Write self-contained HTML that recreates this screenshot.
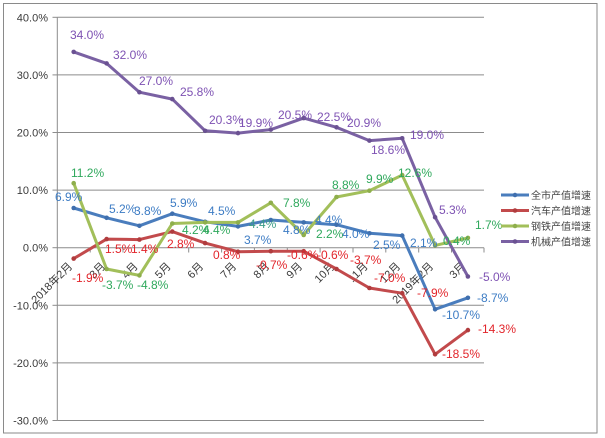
<!DOCTYPE html>
<html><head><meta charset="utf-8"><style>
html,body{margin:0;padding:0;background:#fff;}
svg{display:block;}
.ax{font-family:"Liberation Sans","Noto Sans CJK SC",sans-serif;font-size:11px;fill:#3a3a3a;}
.dl{font-family:"Liberation Sans",sans-serif;font-size:12px;}
.b{fill:#3d7cc4;} .r{fill:#e2252b;} .g{fill:#2fa85c;} .p{fill:#7e52b3;}
.lg{font-family:"Liberation Sans","Noto Sans CJK SC",sans-serif;font-size:10px;fill:#444;}
</style></head><body>
<svg width="605" height="438" viewBox="0 0 605 438" xmlns="http://www.w3.org/2000/svg">
<rect x="0" y="0" width="605" height="438" fill="#fff"/>
<rect x="3.5" y="3.5" width="593.5" height="429.5" fill="none" stroke="#8a8a8a" stroke-width="1"/>
<!-- gridlines -->
<g stroke="#8c8c8c" stroke-width="1">
<line x1="57.3" y1="17.3" x2="484" y2="17.3"/>
<line x1="57.3" y1="74.9" x2="484" y2="74.9"/>
<line x1="57.3" y1="132.5" x2="484" y2="132.5"/>
<line x1="57.3" y1="190.1" x2="484" y2="190.1"/>
<line x1="57.3" y1="247.7" x2="484" y2="247.7"/>
<line x1="57.3" y1="305.3" x2="484" y2="305.3"/>
<line x1="57.3" y1="362.9" x2="484" y2="362.9"/>
<line x1="57.3" y1="420.5" x2="484" y2="420.5"/>
<line x1="57.3" y1="17.3" x2="57.3" y2="420.5"/>
<line x1="52.5" y1="17.3" x2="57.3" y2="17.3"/>
<line x1="52.5" y1="74.9" x2="57.3" y2="74.9"/>
<line x1="52.5" y1="132.5" x2="57.3" y2="132.5"/>
<line x1="52.5" y1="190.1" x2="57.3" y2="190.1"/>
<line x1="52.5" y1="247.7" x2="57.3" y2="247.7"/>
<line x1="52.5" y1="305.3" x2="57.3" y2="305.3"/>
<line x1="52.5" y1="362.9" x2="57.3" y2="362.9"/>
<line x1="52.5" y1="420.5" x2="57.3" y2="420.5"/>
<line x1="90.2" y1="247.7" x2="90.2" y2="252.5"/>
<line x1="123.0" y1="247.7" x2="123.0" y2="252.5"/>
<line x1="155.9" y1="247.7" x2="155.9" y2="252.5"/>
<line x1="188.7" y1="247.7" x2="188.7" y2="252.5"/>
<line x1="221.6" y1="247.7" x2="221.6" y2="252.5"/>
<line x1="254.4" y1="247.7" x2="254.4" y2="252.5"/>
<line x1="287.3" y1="247.7" x2="287.3" y2="252.5"/>
<line x1="320.1" y1="247.7" x2="320.1" y2="252.5"/>
<line x1="353.0" y1="247.7" x2="353.0" y2="252.5"/>
<line x1="385.8" y1="247.7" x2="385.8" y2="252.5"/>
<line x1="418.7" y1="247.7" x2="418.7" y2="252.5"/>
<line x1="451.5" y1="247.7" x2="451.5" y2="252.5"/>
<line x1="484" y1="247.7" x2="484" y2="252.5"/>
</g>
<!-- y labels -->
<g class="ax" text-anchor="end">
<text x="48" y="21.3">40.0%</text>
<text x="48" y="78.9">30.0%</text>
<text x="48" y="136.5">20.0%</text>
<text x="48" y="194.1">10.0%</text>
<text x="48" y="251.7">0.0%</text>
<text x="48" y="309.3">-10.0%</text>
<text x="48" y="366.9">-20.0%</text>
<text x="48" y="424.5">-30.0%</text>
</g>
<!-- x labels -->
<g class="ax" text-anchor="end">
<text transform="translate(73,267) rotate(-45)">2018年2月</text>
<text transform="translate(106,267) rotate(-45)">3月</text>
<text transform="translate(138.5,267) rotate(-45)">4月</text>
<text transform="translate(171.5,267) rotate(-45)">5月</text>
<text transform="translate(204,267) rotate(-45)">6月</text>
<text transform="translate(237,267) rotate(-45)">7月</text>
<text transform="translate(270,267) rotate(-45)">8月</text>
<text transform="translate(303,267) rotate(-45)">9月</text>
<text transform="translate(335.5,267) rotate(-45)">10月</text>
<text transform="translate(368.5,267) rotate(-45)">11月</text>
<text transform="translate(401,267) rotate(-45)">12月</text>
<text transform="translate(434,267) rotate(-45)">2019年2月</text>
<text transform="translate(466,267) rotate(-45)">3月</text>
</g>
<!-- series -->
<g fill="none" stroke-width="3" stroke-linejoin="round" stroke-linecap="round">
<polyline stroke="#4a7dbd" points="73.7,208 106.6,217.8 139.4,225.8 172.3,213.7 205.1,221.8 238,226.4 270.8,220 303.7,222.4 336.5,224.7 369.4,233.3 402.2,235.6 435.1,309.3 467.9,297.8"/>
<polyline stroke="#c24a4c" points="73.7,258.6 106.6,239.1 139.4,239.6 172.3,231.6 205.1,243.1 238,251.7 270.8,251.2 303.7,251.2 336.5,269 369.4,288 402.2,293.2 435.1,354.3 467.9,330.1"/>
<polyline stroke="#a2bf5a" points="73.7,183.2 106.6,269 139.4,275.4 172.3,223.5 205.1,222.4 238,222.4 270.8,202.8 303.7,235 336.5,197 369.4,190.7 402.2,175.1 435.1,245.4 467.9,237.9"/>
<polyline stroke="#7a61a3" points="73.7,51.9 106.6,63.4 139.4,92.2 172.3,99.1 205.1,130.8 238,133.1 270.8,129.6 303.7,118.1 336.5,127.3 369.4,140.6 402.2,138.3 435.1,217.2 467.9,276.5"/>
</g>
<g fill="#3f6fae">
<circle cx="73.7" cy="208" r="2.3"/><circle cx="106.6" cy="217.8" r="2.3"/><circle cx="139.4" cy="225.8" r="2.3"/><circle cx="172.3" cy="213.7" r="2.3"/><circle cx="205.1" cy="221.8" r="2.3"/><circle cx="238" cy="226.4" r="2.3"/><circle cx="270.8" cy="220" r="2.3"/><circle cx="303.7" cy="222.4" r="2.3"/><circle cx="336.5" cy="224.7" r="2.3"/><circle cx="369.4" cy="233.3" r="2.3"/><circle cx="402.2" cy="235.6" r="2.3"/><circle cx="435.1" cy="309.3" r="2.3"/><circle cx="467.9" cy="297.8" r="2.3"/>
</g>
<g fill="#b03c3e">
<circle cx="73.7" cy="258.6" r="2.3"/><circle cx="106.6" cy="239.1" r="2.3"/><circle cx="139.4" cy="239.6" r="2.3"/><circle cx="172.3" cy="231.6" r="2.3"/><circle cx="205.1" cy="243.1" r="2.3"/><circle cx="238" cy="251.7" r="2.3"/><circle cx="270.8" cy="251.2" r="2.3"/><circle cx="303.7" cy="251.2" r="2.3"/><circle cx="336.5" cy="269" r="2.3"/><circle cx="369.4" cy="288" r="2.3"/><circle cx="402.2" cy="293.2" r="2.3"/><circle cx="435.1" cy="354.3" r="2.3"/><circle cx="467.9" cy="330.1" r="2.3"/>
</g>
<g fill="#8eae4c">
<circle cx="73.7" cy="183.2" r="2.3"/><circle cx="106.6" cy="269" r="2.3"/><circle cx="139.4" cy="275.4" r="2.3"/><circle cx="172.3" cy="223.5" r="2.3"/><circle cx="205.1" cy="222.4" r="2.3"/><circle cx="238" cy="222.4" r="2.3"/><circle cx="270.8" cy="202.8" r="2.3"/><circle cx="303.7" cy="235" r="2.3"/><circle cx="336.5" cy="197" r="2.3"/><circle cx="369.4" cy="190.7" r="2.3"/><circle cx="402.2" cy="175.1" r="2.3"/><circle cx="435.1" cy="245.4" r="2.3"/><circle cx="467.9" cy="237.9" r="2.3"/>
</g>
<g fill="#6a5192">
<circle cx="73.7" cy="51.9" r="2.3"/><circle cx="106.6" cy="63.4" r="2.3"/><circle cx="139.4" cy="92.2" r="2.3"/><circle cx="172.3" cy="99.1" r="2.3"/><circle cx="205.1" cy="130.8" r="2.3"/><circle cx="238" cy="133.1" r="2.3"/><circle cx="270.8" cy="129.6" r="2.3"/><circle cx="303.7" cy="118.1" r="2.3"/><circle cx="336.5" cy="127.3" r="2.3"/><circle cx="369.4" cy="140.6" r="2.3"/><circle cx="402.2" cy="138.3" r="2.3"/><circle cx="435.1" cy="217.2" r="2.3"/><circle cx="467.9" cy="276.5" r="2.3"/>
</g>
<!-- data labels -->
<g class="dl">
<text class="p" x="70" y="39">34.0%</text>
<text class="p" x="113" y="59">32.0%</text>
<text class="p" x="139" y="85">27.0%</text>
<text class="p" x="180" y="96">25.8%</text>
<text class="p" x="209" y="124">20.3%</text>
<text class="p" x="239" y="127">19.9%</text>
<text class="p" x="278" y="119">20.5%</text>
<text class="p" x="317" y="121">22.5%</text>
<text class="p" x="347" y="127">20.9%</text>
<text class="p" x="371" y="154">18.6%</text>
<text class="p" x="410" y="139">19.0%</text>
<text class="p" x="439" y="214">5.3%</text>
<text class="p" x="479" y="281">-5.0%</text>

<text class="b" x="55" y="201">6.9%</text>
<text class="b" x="109" y="213">5.2%</text>
<text class="b" x="134" y="215">3.8%</text>
<text class="b" x="170" y="207">5.9%</text>
<text class="b" x="208" y="215">4.5%</text>
<text class="b" x="244" y="244">3.7%</text>
<text class="b" x="283" y="234">4.8%</text>
<text class="b" x="315" y="224">4.4%</text>
<text class="b" x="342" y="238">4.0%</text>
<text class="b" x="373" y="249">2.5%</text>
<text class="b" x="410" y="247">2.1%</text>
<text class="b" x="442" y="319">-10.7%</text>
<text class="b" x="477" y="302">-8.7%</text>

<text class="g" x="71" y="177">11.2%</text>
<text class="g" x="102" y="289">-3.7%</text>
<text class="g" x="137" y="289">-4.8%</text>
<text class="g" x="182" y="234">4.2%</text>
<text class="g" x="203" y="234">4.4%</text>
<text x="249" y="228" fill="#3a9c86">4.4%</text>
<text class="g" x="283" y="207">7.8%</text>
<text class="g" x="316" y="238">2.2%</text>
<text class="g" x="332" y="189">8.8%</text>
<text class="g" x="366" y="183">9.9%</text>
<text class="g" x="398" y="177">12.6%</text>
<text class="g" x="443" y="245">0.4%</text>
<text class="g" x="475" y="229">1.7%</text>

<text class="r" x="72" y="282">-1.9%</text>
<text class="r" x="105" y="253">1.5%</text>
<text class="r" x="131" y="253">1.4%</text>
<text class="r" x="167" y="248">2.8%</text>
<text class="r" x="213" y="259">0.8%</text>
<text class="r" x="256" y="269">-0.7%</text>
<text class="r" x="287" y="259">-0.6%</text>
<text class="r" x="317" y="259">-0.6%</text>
<text class="r" x="350" y="264">-3.7%</text>
<text class="r" x="374" y="282">-7.0%</text>
<text class="r" x="417" y="297">-7.9%</text>
<text class="r" x="442" y="358">-18.5%</text>
<text class="r" x="478" y="333">-14.3%</text>
</g>
<!-- legend -->
<g stroke-width="3">
<line x1="501" y1="195" x2="529" y2="195" stroke="#4a7dbd"/>
<line x1="501" y1="210.5" x2="529" y2="210.5" stroke="#c24a4c"/>
<line x1="501" y1="226" x2="529" y2="226" stroke="#a2bf5a"/>
<line x1="501" y1="241.5" x2="529" y2="241.5" stroke="#7a61a3"/>
</g>
<circle cx="515" cy="195" r="2.3" fill="#3f6fae"/>
<circle cx="515" cy="210.5" r="2.3" fill="#b03c3e"/>
<circle cx="515" cy="226" r="2.3" fill="#8eae4c"/>
<circle cx="515" cy="241.5" r="2.3" fill="#6a5192"/>
<g class="lg">
<text x="531" y="199">全市产值增速</text>
<text x="531" y="214.5">汽车产值增速</text>
<text x="531" y="230">钢铁产值增速</text>
<text x="531" y="245.5">机械产值增速</text>
</g>
</svg>
</body></html>
